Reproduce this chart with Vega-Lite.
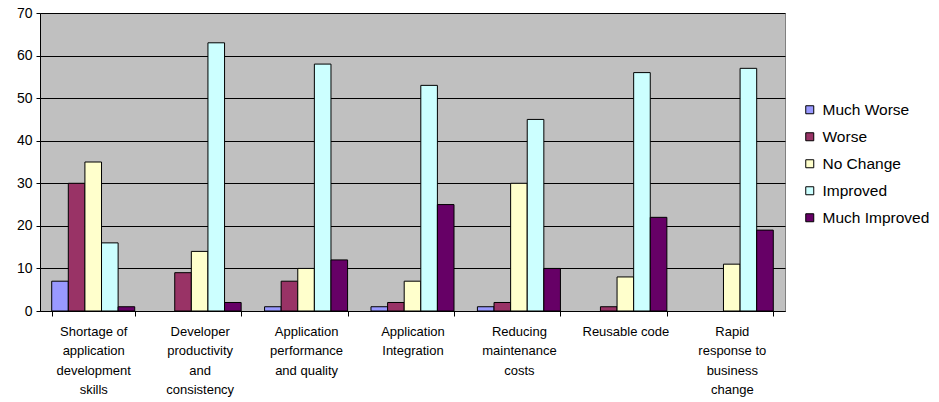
{
  "$schema": "https://vega.github.io/schema/vega-lite/v6.json",
  "autosize": "none",
  "width": 745,
  "height": 298,
  "padding": {"left": 40, "top": 13, "right": 154, "bottom": 91},
  "background": "white",
  "config": {
    "font": "Liberation Sans",
    "view": {"fill": "#C0C0C0", "stroke": "#808080", "strokeWidth": 1}
  },
  "data": {
    "values": [
      {"category": "Shortage of application development skills", "series": "Much Worse", "value": 7},
      {"category": "Shortage of application development skills", "series": "Worse", "value": 30},
      {"category": "Shortage of application development skills", "series": "No Change", "value": 35},
      {"category": "Shortage of application development skills", "series": "Improved", "value": 16},
      {"category": "Shortage of application development skills", "series": "Much Improved", "value": 1},
      {"category": "Developer productivity and consistency", "series": "Much Worse", "value": 0},
      {"category": "Developer productivity and consistency", "series": "Worse", "value": 9},
      {"category": "Developer productivity and consistency", "series": "No Change", "value": 14},
      {"category": "Developer productivity and consistency", "series": "Improved", "value": 63},
      {"category": "Developer productivity and consistency", "series": "Much Improved", "value": 2},
      {"category": "Application performance and quality", "series": "Much Worse", "value": 1},
      {"category": "Application performance and quality", "series": "Worse", "value": 7},
      {"category": "Application performance and quality", "series": "No Change", "value": 10},
      {"category": "Application performance and quality", "series": "Improved", "value": 58},
      {"category": "Application performance and quality", "series": "Much Improved", "value": 12},
      {"category": "Application Integration", "series": "Much Worse", "value": 1},
      {"category": "Application Integration", "series": "Worse", "value": 2},
      {"category": "Application Integration", "series": "No Change", "value": 7},
      {"category": "Application Integration", "series": "Improved", "value": 53},
      {"category": "Application Integration", "series": "Much Improved", "value": 25},
      {"category": "Reducing maintenance costs", "series": "Much Worse", "value": 1},
      {"category": "Reducing maintenance costs", "series": "Worse", "value": 2},
      {"category": "Reducing maintenance costs", "series": "No Change", "value": 30},
      {"category": "Reducing maintenance costs", "series": "Improved", "value": 45},
      {"category": "Reducing maintenance costs", "series": "Much Improved", "value": 10},
      {"category": "Reusable code", "series": "Much Worse", "value": 0},
      {"category": "Reusable code", "series": "Worse", "value": 1},
      {"category": "Reusable code", "series": "No Change", "value": 8},
      {"category": "Reusable code", "series": "Improved", "value": 56},
      {"category": "Reusable code", "series": "Much Improved", "value": 22},
      {"category": "Rapid response to business change", "series": "Much Worse", "value": 0},
      {"category": "Rapid response to business change", "series": "Worse", "value": 0},
      {"category": "Rapid response to business change", "series": "No Change", "value": 11},
      {"category": "Rapid response to business change", "series": "Improved", "value": 57},
      {"category": "Rapid response to business change", "series": "Much Improved", "value": 19}
    ]
  },
  "transform": [{"filter": "datum.value > 0"}],
  "mark": {"type": "bar", "stroke": "#000000", "strokeWidth": 1},
  "encoding": {
    "x": {
      "field": "category",
      "type": "nominal",
      "sort": null,
      "scale": {
        "domain": [
          "Shortage of application development skills",
          "Developer productivity and consistency",
          "Application performance and quality",
          "Application Integration",
          "Reducing maintenance costs",
          "Reusable code",
          "Rapid response to business change"
        ],
        "paddingInner": 0.22,
        "paddingOuter": 0.11
      },
      "axis": {
        "title": null,
        "labelAngle": 0,
        "tickBand": "extent",
        "tickSize": 5,
        "tickColor": "#000000",
        "domainColor": "#000000",
        "labelPadding": 9,
        "labelFont": "Liberation Sans",
        "labelFontSize": 13,
        "labelColor": "#000000",
        "labelLineHeight": 19.5,
        "labelBaseline": "top",
        "labelLimit": 0,
        "labelExpr": "{'Shortage of application development skills': ['Shortage of', 'application', 'development', 'skills'], 'Developer productivity and consistency': ['Developer', 'productivity', 'and', 'consistency'], 'Application performance and quality': ['Application', 'performance', 'and quality'], 'Application Integration': ['Application', 'Integration'], 'Reducing maintenance costs': ['Reducing', 'maintenance', 'costs'], 'Reusable code': ['Reusable code'], 'Rapid response to business change': ['Rapid', 'response to', 'business', 'change']}[datum.value]"
      }
    },
    "xOffset": {
      "field": "series",
      "type": "nominal",
      "scale": {
        "domain": ["Much Worse", "Worse", "No Change", "Improved", "Much Improved"],
        "paddingInner": 0,
        "paddingOuter": 0
      }
    },
    "y": {
      "field": "value",
      "type": "quantitative",
      "scale": {"domain": [0, 70], "nice": false},
      "axis": {
        "title": null,
        "values": [0, 10, 20, 30, 40, 50, 60, 70],
        "grid": true,
        "gridColor": "#000000",
        "gridOpacity": 1,
        "gridWidth": 1,
        "domainColor": "#000000",
        "tickColor": "#000000",
        "tickSize": 4,
        "labelPadding": 4,
        "labelFontSize": 14,
        "labelColor": "#000000"
      }
    },
    "color": {
      "field": "series",
      "type": "nominal",
      "scale": {
        "domain": ["Much Worse", "Worse", "No Change", "Improved", "Much Improved"],
        "range": ["#9999FF", "#993366", "#FFFFCC", "#CCFFFF", "#660066"]
      },
      "legend": {
        "title": null,
        "orient": "none",
        "legendX": 762,
        "legendY": 89,
        "symbolType": "square",
        "symbolSize": 64,
        "symbolStrokeColor": "#000000",
        "symbolStrokeWidth": 1,
        "labelFontSize": 15.5,
        "labelColor": "#000000",
        "rowPadding": 10,
        "labelOffset": 5
      }
    }
  }
}
